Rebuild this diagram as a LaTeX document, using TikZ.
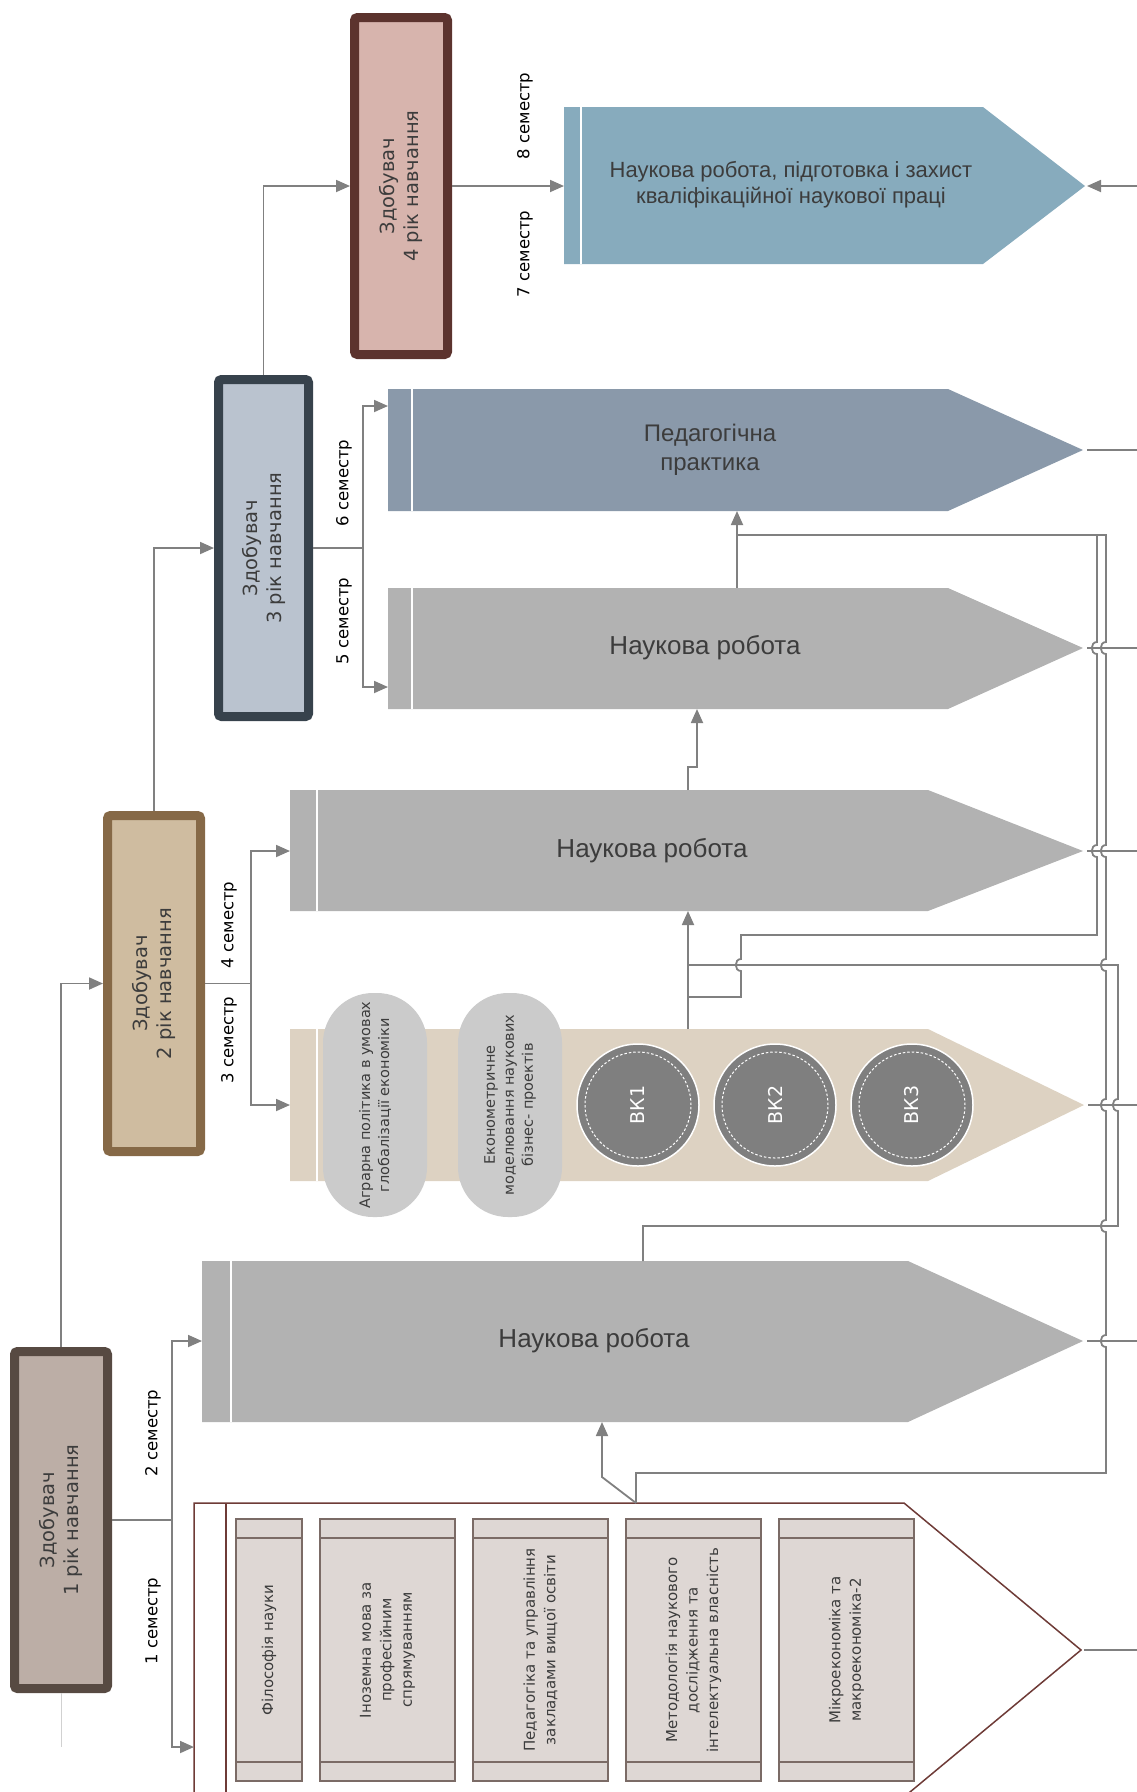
\documentclass[tikz,border=0pt]{standalone}
\usepackage{fontspec}
\setmainfont{DejaVu Sans}
\newfontfamily\lsans{Liberation Sans}
\usetikzlibrary{arrows.meta}
\definecolor{conn}{HTML}{808080}
\definecolor{nrgray}{HTML}{B2B2B2}
\definecolor{ppblue}{HTML}{8A99AA}
\definecolor{disblue}{HTML}{87ABBD}
\definecolor{tanfill}{HTML}{DDD2C2}
\definecolor{ellgray}{HTML}{CBCBCB}
\definecolor{bkgray}{HTML}{7F7F7F}
\definecolor{txtdark}{HTML}{3C3C3C}
\definecolor{yoneF}{HTML}{BCAEA6}\definecolor{yoneD}{HTML}{574A42}
\definecolor{ytwoF}{HTML}{CFBCA0}\definecolor{ytwoD}{HTML}{866947}
\definecolor{ythreeF}{HTML}{BAC3CF}\definecolor{ythreeD}{HTML}{37424C}
\definecolor{yfourF}{HTML}{D7B4AD}\definecolor{yfourD}{HTML}{5C332E}
\definecolor{contD}{HTML}{6E3B37}
\definecolor{courseF}{HTML}{DED7D4}\definecolor{courseD}{HTML}{7B6B66}
\begin{document}
\begin{tikzpicture}[x=1pt,y=-1pt,
  conn/.style={draw=conn,line width=1.8pt},
  arr/.style={conn,-{Triangle[length=14pt,width=12pt]}},
  yearbox/.style={line width=9pt,rounded corners=3pt,inner sep=0pt},
  yeartext/.style={rotate=90,align=center,text=txtdark,font=\fontsize{19.5}{24}\selectfont},
  semlabel/.style={rotate=90,text=black,font=\fontsize{16.5}{20}\selectfont},
  bigtxt/.style={align=center,text=txtdark,font=\lsans\fontsize{26}{30}\selectfont},
  coursebox/.style={draw=courseD,fill=courseF,line width=1.5pt,inner sep=0pt,outer sep=0pt,minimum height=262pt},
  coursetext/.style={rotate=90,align=center,text=txtdark,font=\fontsize{15}{20.5}\selectfont},
  ell/.style={rotate=90,fill=ellgray,rounded corners=50pt,minimum width=224pt,minimum height=104pt,inner sep=0pt,align=center,text=txtdark,font=\fontsize{14.5}{19}\selectfont},
  bk/.style={circle,fill=bkgray,draw=white,line width=1.5pt,minimum size=122pt,inner sep=0pt,text=white,rotate=90,font=\fontsize{19}{22}\selectfont},
  bkring/.style={circle,draw=white,line width=1pt,dash pattern=on 2.5pt off 2pt,minimum size=106pt,inner sep=0pt},
  sep/.style={white,line width=2pt}
]
\useasboundingbox (0,0) rectangle (1137,1792);
\clip (0,0) rectangle (1137,1792);

% ---------- attachment coordinates ----------
\coordinate (disL) at (564,186);
\coordinate (disT) at (1087,186);
\coordinate (disR) at (1137,186);
\coordinate (ppL) at (388,406);
\coordinate (ppB) at (737,511);
\coordinate (ppT) at (1087,450);
\coordinate (ppR) at (1137,450);
\coordinate (nrcL) at (388,687);
\coordinate (nrcB) at (697,709);
\coordinate (nrcTop) at (737,588);
\coordinate (nrcT) at (1087,648);
\coordinate (nrcR) at (1137,648);
\coordinate (nrbL) at (290,851);
\coordinate (nrbB) at (688,911);
\coordinate (nrbTop) at (688,790);
\coordinate (nrbT) at (1087,851);
\coordinate (nrbR) at (1137,851);
\coordinate (tanL) at (290,1105);
\coordinate (tanTop) at (688,1029);
\coordinate (tanT) at (1088,1105);
\coordinate (tanR) at (1137,1105);
\coordinate (nraL) at (202,1341);
\coordinate (nraB) at (602,1422);
\coordinate (nraTop) at (643,1261);
\coordinate (nraT) at (1087,1341);
\coordinate (nraR) at (1137,1341);
\coordinate (contL) at (194,1747);
\coordinate (contTop) at (636,1503);
\coordinate (contT) at (1084,1650);
\coordinate (contR) at (1137,1650);

% ---------- pentagons ----------
\fill[disblue] (564,107) -- (983,107) -- (1085,186) -- (983,264) -- (564,264) -- cycle;
\draw[sep] (581,107) -- (581,264);
\node[bigtxt,font=\lsans\fontsize{22}{26}\selectfont] (dis) at (791,185) {Наукова робота, підготовка і захист\\кваліфікаційної наукової праці};

\fill[ppblue] (388,389) -- (948,389) -- (1083,450) -- (948,511) -- (388,511) -- cycle;
\draw[sep] (412,389) -- (412,511);
\node[bigtxt,font=\lsans\fontsize{24}{29}\selectfont] (pp) at (710,450) {Педагогічна\\практика};

\fill[nrgray] (388,588) -- (948,588) -- (1083,648) -- (948,709) -- (388,709) -- cycle;
\draw[sep] (412,588) -- (412,709);
\node[bigtxt] (nrc) at (705,648) {Наукова робота};

\fill[nrgray] (290,790) -- (928,790) -- (1083,851) -- (928,911) -- (290,911) -- cycle;
\draw[sep] (317,790) -- (317,911);
\node[bigtxt] (nrb) at (652,851) {Наукова робота};

\fill[tanfill] (290,1029) -- (928,1029) -- (1084,1105) -- (928,1181) -- (290,1181) -- cycle;
\draw[sep] (317,1029) -- (317,1181);
\node[ell] (ea) at (375,1105) {Аграрна політика в умовах\\глобалізації економіки};
\node[ell] (eb) at (510,1105) {Економетричне\\моделювання наукових\\бізнес- проектів};
\node[bk] (bka) at (638,1105) {ВК1};
\node[bk] (bkb) at (775,1105) {ВК2};
\node[bk] (bkc) at (912,1105) {ВК3};
\node[bkring] at (bka) {};
\node[bkring] at (bkb) {};
\node[bkring] at (bkc) {};

\fill[nrgray] (202,1261) -- (908,1261) -- (1083,1341) -- (908,1422) -- (202,1422) -- cycle;
\draw[sep] (231,1261) -- (231,1422);
\node[bigtxt] (nra) at (594,1341) {Наукова робота};

% course container
\draw[contD,line width=1.5pt] (194,1800) -- (194,1503) -- (904,1503) -- (1081,1650) -- (904,1797);
\draw[contD,line width=1.5pt] (226,1503) -- (226,1800);

\node[coursebox,minimum width=66pt] (ca) at (269,1650) {};
\node[coursebox,minimum width=135pt] (cb) at (387.5,1650) {};
\node[coursebox,minimum width=135pt] (cc) at (540.5,1650) {};
\node[coursebox,minimum width=135pt] (cd) at (693.5,1650) {};
\node[coursebox,minimum width=135pt] (ce) at (846.5,1650) {};
\foreach \c in {ca,cb,cc,cd,ce}{
  \draw[courseD,line width=1.5pt] ([yshift=-19pt]\c.north west) -- ([yshift=-19pt]\c.north east);
  \draw[courseD,line width=1.5pt] ([yshift=19pt]\c.south west) -- ([yshift=19pt]\c.south east);
}
\node[coursetext] (cat) at (ca) {Філософія науки};
\node[coursetext] (cbt) at (cb) {Іноземна мова за\\професійним\\спрямуванням};
\node[coursetext] (cct) at (cc) {Педагогіка та управління\\закладами вищої освіти};
\node[coursetext] (cdt) at (cd) {Методологія наукового\\дослідження та\\інтелектуальна власність};
\node[coursetext] (cet) at (ce) {Мікроекономіка та\\макроекономіка-2};

% ---------- year boxes ----------
\node[yearbox,draw=yoneD,fill=yoneF,minimum width=93pt,minimum height=337pt] (ya) at (61,1520) {};
\node[yearbox,draw=ytwoD,fill=ytwoF,minimum width=93pt,minimum height=336pt] (yb) at (154,983.5) {};
\node[yearbox,draw=ythreeD,fill=ythreeF,minimum width=90pt,minimum height=337pt] (yc) at (263.5,548) {};
\node[yearbox,draw=yfourD,fill=yfourF,minimum width=93pt,minimum height=337pt] (yd) at (401,186) {};
\node[yeartext] (yat) at (ya) {Здобувач\\1 рік навчання};
\node[yeartext] (ybt) at (yb) {Здобувач\\2 рік навчання};
\node[yeartext] (yct) at (yc) {Здобувач\\3 рік навчання};
\node[yeartext] (ydt) at (yd) {Здобувач\\4 рік навчання};
\draw[draw=black!18,line width=1pt] (ya.south) -- ++(0,54);

% ---------- semester labels ----------
\node[semlabel] (s1) at (153,1621) {1 семестр};
\node[semlabel] (s2) at (153,1433) {2 семестр};
\node[semlabel] (s3) at (229,1040) {3 семестр};
\node[semlabel] (s4) at (229,925) {4 семестр};
\node[semlabel] (s5) at (344,621) {5 семестр};
\node[semlabel] (s6) at (344,483) {6 семестр};
\node[semlabel] (s7) at (525,254) {7 семестр};
\node[semlabel] (s8) at (525,116) {8 семестр};

% ---------- year connectors ----------
\coordinate (sa) at (172,1520);
\coordinate (sb) at (251,983.5);
\coordinate (sc) at (363,548);
\draw[arr] (ya.north) |- (yb.west);
\draw[arr] (yb.north) |- (yc.west);
\draw[arr] (yc.north) |- (yd.west);
\draw[arr] (yd.east) -- (disL);
\draw[conn] (ya.east) -- (sa);
\draw[arr] (sa) |- (nraL);
\draw[arr] (sa) |- (contL);
\draw[conn] (yb.east) -- (sb);
\draw[arr] (sb) |- (nrbL);
\draw[arr] (sb) |- (tanL);
\draw[conn] (yc.east) -- (sc);
\draw[arr] (sc) |- (ppL);
\draw[arr] (sc) |- (nrcL);

% ---------- upward connectors ----------
\draw[arr] (contTop) -- (602,1477) -- (nraB);
\draw[arr] (tanTop) -- (nrbB);
\draw[arr] (nrbTop) -- (688,767) -- (697,767) -- (nrcB);
\draw[arr] (nrcTop) -- (ppB);

% right bus (x = 1106)
\draw[conn] (contTop) -- (636,1473) -- (1106,1473)
  -- (1106,1347) .. controls (1099,1347) and (1099,1335) .. (1106,1335)
  -- (1106,1232) .. controls (1099,1232) and (1099,1220) .. (1106,1220)
  -- (1106,1111) .. controls (1099,1111) and (1099,1099) .. (1106,1099)
  -- (1106,971) .. controls (1099,971) and (1099,959) .. (1106,959)
  -- (1106,857) .. controls (1099,857) and (1099,845) .. (1106,845)
  -- (1106,654) .. controls (1099,654) and (1099,642) .. (1106,642)
  -- (1106,535) -- (737,535);
% left bus (x = 1097)
\draw[conn] (1097,535)
  -- (1097,642) .. controls (1090,642) and (1090,654) .. (1097,654)
  -- (1097,845) .. controls (1090,845) and (1090,857) .. (1097,857)
  -- (1097,935) -- (741,935)
  -- (741,959) .. controls (734,959) and (734,971) .. (741,971)
  -- (741,997) -- (688,997);
% bracket (x = 1118)
\draw[conn] (nraTop) -- (643,1226) -- (1118,1226)
  -- (1118,1111) .. controls (1111,1111) and (1111,1099) .. (1118,1099)
  -- (1118,965) -- (688,965);

% ---------- tip lines ----------
\draw[arr] (disR) -- (disT);
\draw[conn] (ppT) -- (ppR);
\draw[conn] (nrcT) -- (nrcR);
\draw[conn] (nrbT) -- (nrbR);
\draw[conn] (tanT) -- (tanR);
\draw[conn] (nraT) -- (nraR);
\draw[conn] (contT) -- (contR);
\end{tikzpicture}
\end{document}
